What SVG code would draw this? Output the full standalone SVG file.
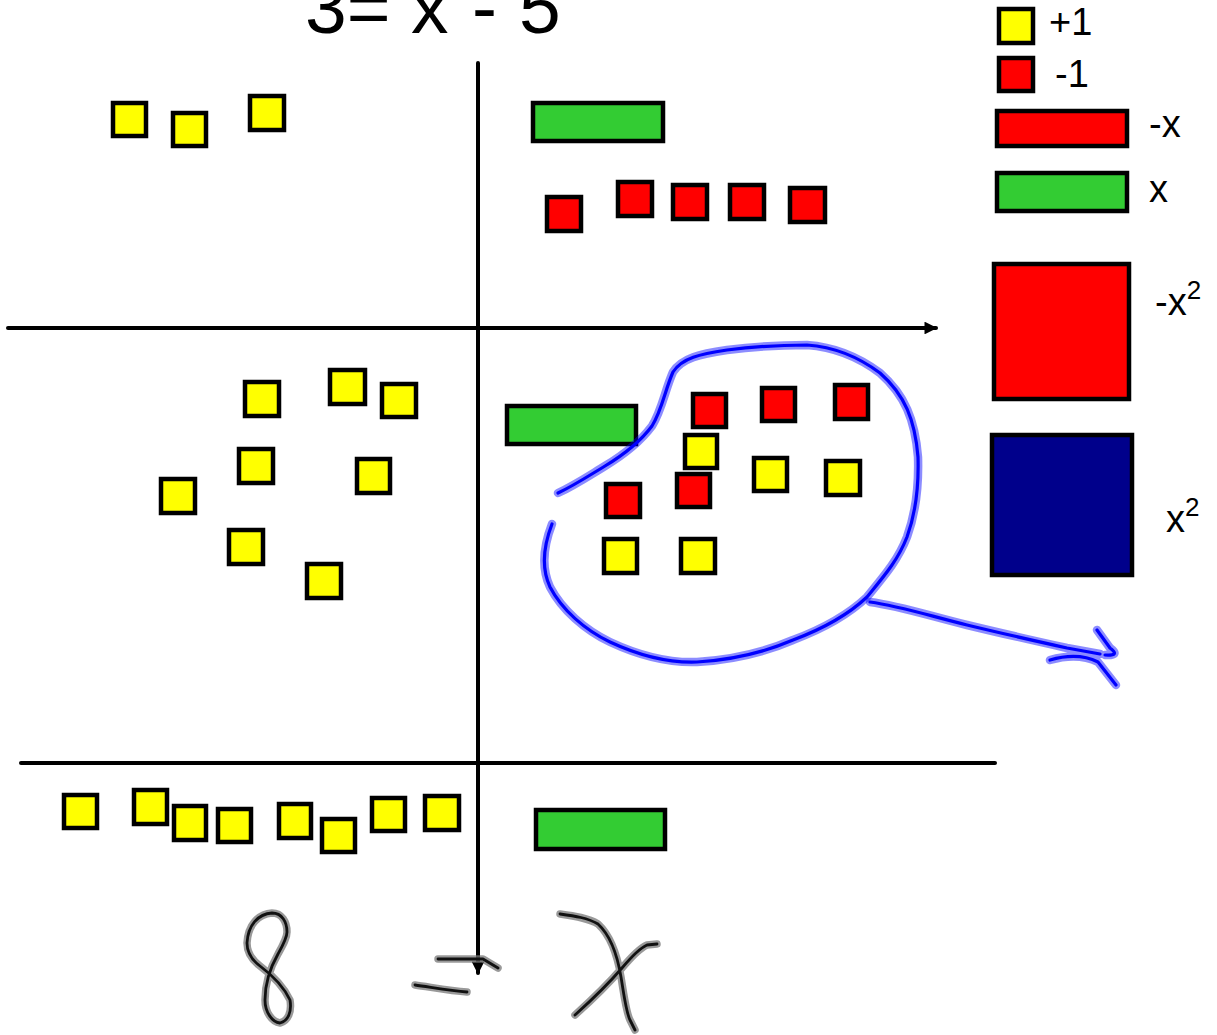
<svg xmlns="http://www.w3.org/2000/svg" width="1217" height="1035" viewBox="0 0 1217 1035">
<defs>
<style>
.y{fill:#ffff00;stroke:#000;stroke-width:4.5}
.r{fill:#ff0000;stroke:#000;stroke-width:4.5}
.g{fill:#33cc33;stroke:#000;stroke-width:4.5}
.b{fill:#00008b;stroke:#000;stroke-width:4.5}
.ax{stroke:#000;stroke-width:4;fill:none;stroke-linecap:round}
.t{font-family:"Liberation Sans",Arial,sans-serif;fill:#000}
.halo{fill:none;stroke:#0000ff;stroke-opacity:0.45;stroke-width:8.5;stroke-linecap:round;stroke-linejoin:round}
.ink{fill:none;stroke:#0000ff;stroke-width:3.2;stroke-linecap:round;stroke-linejoin:round}
.ghalo{fill:none;stroke:#777;stroke-opacity:0.75;stroke-width:7.5;stroke-linecap:round;stroke-linejoin:round}
.gink{fill:none;stroke:#111;stroke-width:2.8;stroke-linecap:round;stroke-linejoin:round}
</style>
<marker id="ah" viewBox="0 0 10 10" refX="9" refY="5" markerWidth="3.4" markerHeight="3.2" orient="auto" markerUnits="strokeWidth">
<path d="M0,0 L10,5 L0,10 z" fill="#000"/>
</marker>
</defs>
<rect width="1217" height="1035" fill="#fff"/>

<text class="t" x="305" y="33" font-size="75">3= <tspan x="411">x </tspan><tspan x="472">- </tspan><tspan x="519">5</tspan></text>

<g id="connectors">
<line class="ax" x1="478" y1="63" x2="478" y2="973" marker-end="url(#ah)"/>
<line class="ax" x1="8" y1="328" x2="936" y2="328" marker-end="url(#ah)"/>
<line class="ax" x1="21" y1="763" x2="995" y2="763"/>
</g>

<g id="legend">
<g id="leg-plus1"><rect class="y" x="999" y="9" width="34" height="34"/><text class="t" x="1049" y="35" font-size="38">+1</text></g>
<g id="leg-minus1"><rect class="r" x="999" y="58" width="34" height="33"/><text class="t" x="1055" y="87" font-size="38">-1</text></g>
<g id="leg-negx"><rect class="r" x="997" y="111" width="130" height="35"/><text class="t" x="1149" y="137" font-size="38">-x</text></g>
<g id="leg-x"><rect class="g" x="997" y="173" width="130" height="38"/><text class="t" x="1149" y="202" font-size="38">x</text></g>
<g id="leg-negx2"><rect class="r" x="994" y="264" width="135" height="135"/><text class="t" x="1155" y="315" font-size="38">-x<tspan font-size="26" dy="-16">2</tspan></text></g>
<g id="leg-x2"><rect class="b" x="992" y="435" width="140" height="140"/><text class="t" x="1166" y="532" font-size="38">x<tspan font-size="26" dy="-16">2</tspan></text></g>
</g>

<g id="q1-left">
<rect class="y" x="113" y="103" width="33" height="33"/>
<rect class="y" x="173" y="113" width="33" height="33"/>
<rect class="y" x="250" y="96" width="34" height="34"/>
</g>

<g id="q1-right">
<rect class="g" x="533" y="103" width="130" height="38"/>
<rect class="r" x="547" y="197" width="34" height="34"/>
<rect class="r" x="618" y="182" width="34" height="34"/>
<rect class="r" x="673" y="185" width="34" height="34"/>
<rect class="r" x="730" y="185" width="34" height="34"/>
<rect class="r" x="790" y="188" width="35" height="34"/>
</g>

<g id="q2-left">
<rect class="y" x="245" y="382" width="34" height="34"/>
<rect class="y" x="330" y="370" width="35" height="34"/>
<rect class="y" x="382" y="384" width="34" height="33"/>
<rect class="y" x="239" y="449" width="34" height="34"/>
<rect class="y" x="357" y="459" width="33" height="34"/>
<rect class="y" x="161" y="479" width="34" height="34"/>
<rect class="y" x="229" y="530" width="34" height="34"/>
<rect class="y" x="307" y="564" width="34" height="34"/>
</g>

<g id="q2-right">
<rect class="g" x="507" y="406" width="129" height="38"/>
<rect class="r" x="693" y="394" width="33" height="33"/>
<rect class="r" x="762" y="388" width="33" height="33"/>
<rect class="r" x="835" y="385" width="33" height="34"/>
<rect class="y" x="685" y="435" width="32" height="33"/>
<rect class="r" x="606" y="484" width="34" height="33"/>
<rect class="r" x="677" y="474" width="33" height="33"/>
<rect class="y" x="754" y="458" width="33" height="33"/>
<rect class="y" x="826" y="461" width="34" height="34"/>
<rect class="y" x="604" y="539" width="33" height="34"/>
<rect class="y" x="681" y="539" width="34" height="34"/>
</g>

<g id="q3-left">
<rect class="y" x="64" y="795" width="33" height="33"/>
<rect class="y" x="134" y="790" width="33" height="34"/>
<rect class="y" x="174" y="806" width="32" height="34"/>
<rect class="y" x="218" y="809" width="33" height="33"/>
<rect class="y" x="279" y="804" width="32" height="34"/>
<rect class="y" x="322" y="819" width="33" height="33"/>
<rect class="y" x="372" y="798" width="33" height="33"/>
<rect class="y" x="425" y="796" width="34" height="34"/>
</g>

<g id="q3-right">
<rect class="g" x="536" y="810" width="129" height="39"/>
</g>

<g id="blue-loop">
<path class="halo" d="M558,493 C575,485 590,475 605,466 C625,454 640,442 652,426 C662,410 665,390 673,372 C682,358 700,354 727,350 C750,347 770,345 807,345 C835,347 860,358 880,373 C905,395 915,420 918,457 C919,490 915,515 907,537 C898,560 885,575 867,597 C848,615 825,628 793,640 C765,652 730,660 697,662 C670,663 640,656 610,642 C585,630 562,610 550,587 C542,570 542,550 552,524"/>
<path class="ink" d="M558,493 C575,485 590,475 605,466 C625,454 640,442 652,426 C662,410 665,390 673,372 C682,358 700,354 727,350 C750,347 770,345 807,345 C835,347 860,358 880,373 C905,395 915,420 918,457 C919,490 915,515 907,537 C898,560 885,575 867,597 C848,615 825,628 793,640 C765,652 730,660 697,662 C670,663 640,656 610,642 C585,630 562,610 550,587 C542,570 542,550 552,524"/>
<path class="halo" d="M870,602 C900,606 930,616 967,625 C1000,633 1040,642 1067,648 L1100,654 M1097,630 L1110,648 Q1121,656 1105,655 M1050,660 Q1078,652 1098,662 L1116,685"/>
<path class="ink" d="M870,602 C900,606 930,616 967,625 C1000,633 1040,642 1067,648 L1100,654 M1097,630 L1110,648 Q1121,656 1105,655 M1050,660 Q1078,652 1098,662 L1116,685"/>
</g>

<g id="handwriting">
<path class="ghalo" d="M287,932 C287,922 282,913 272,913 C258,914 248,925 247,943 C247,953 252,960 260,966 C272,975 283,985 290,1000 C292,1012 288,1021 280,1023 C272,1022 265,1012 265,1000 C265,985 270,968 278,954 C283,945 287,938 287,932 M438,959 L483,959 L498,968 M415,985 C430,987 450,991 467,992 M560,914 C575,916 588,918 598,924 C610,935 617,953 621,977 C624,995 626,1012 630,1020 L635,1030 M657,944 L647,945 C640,948 633,955 622,968 C610,982 595,997 575,1015"/>
<path class="gink" d="M287,932 C287,922 282,913 272,913 C258,914 248,925 247,943 C247,953 252,960 260,966 C272,975 283,985 290,1000 C292,1012 288,1021 280,1023 C272,1022 265,1012 265,1000 C265,985 270,968 278,954 C283,945 287,938 287,932 M438,959 L483,959 L498,968 M415,985 C430,987 450,991 467,992 M560,914 C575,916 588,918 598,924 C610,935 617,953 621,977 C624,995 626,1012 630,1020 L635,1030 M657,944 L647,945 C640,948 633,955 622,968 C610,982 595,997 575,1015"/>
</g>
</svg>
